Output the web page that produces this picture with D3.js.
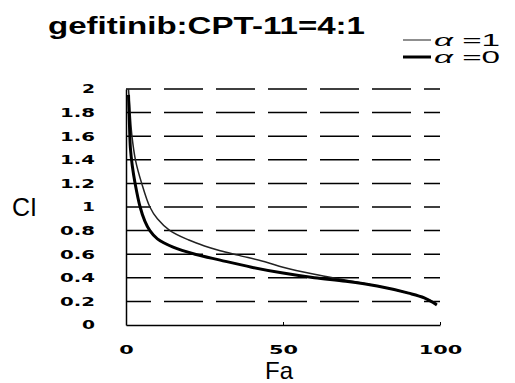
<!DOCTYPE html>
<html>
<head>
<meta charset="utf-8">
<script src="https://cdn.jsdelivr.net/npm/d3@7"></script>
<style>
  body { margin: 0; background: #fff; }
  svg { display: block; }
</style>
</head>
<body>
<div id="chart"></div>
<script>
// Fa values (%) and CI values
var faAlpha0 = [0.8, 1.1, 1.4, 2, 2.9, 4.5, 6, 7.6, 10, 15, 22, 30, 40, 50, 60, 70, 80, 90, 95, 99];
var ciAlpha0 = [1.95, 1.7, 1.5, 1.35, 1.2, 1.0, 0.88, 0.8, 0.73, 0.66, 0.6, 0.55, 0.49, 0.44, 0.4, 0.37, 0.33, 0.27, 0.23, 0.17];
var faAlpha1 = [0.8, 1.3, 1.9, 3, 5, 7.6, 10, 14, 20, 25, 30, 36, 45, 50, 60, 70, 80, 90, 95, 99];
var ciAlpha1 = [2.0, 1.8, 1.6, 1.4, 1.2, 1.0, 0.9, 0.8, 0.72, 0.67, 0.63, 0.59, 0.53, 0.49, 0.43, 0.38, 0.33, 0.27, 0.23, 0.18];
var xTicks = [0, 50, 100];
var yTicks = [0, 0.2, 0.4, 0.6, 0.8, 1, 1.2, 1.4, 1.6, 1.8, 2];
var yTickLabels = ["0", "0.2", "0.4", "0.6", "0.8", "1", "1.2", "1.4", "1.6", "1.8", "2"];
var legendLabels = ["\u03B1 =1", "\u03B1 =0"];

var w = 515, h = 383;
var plotLeft = 126, plotRight = 440, plotTop = 89, plotBottom = 325;

var svg = d3.select("#chart").append("svg")
    .attr("width", w)
    .attr("height", h);

var xScale = d3.scaleLinear().domain([0, 100]).range([plotLeft, plotRight]);
var yScale = d3.scaleLinear().domain([0, 2]).range([plotBottom, plotTop]);

// dashed gridlines
svg.append("g")
    .selectAll("line")
    .data(yTicks.filter(d => d > 0))
    .enter()
    .append("line")
    .attr("x1", plotLeft)
    .attr("x2", plotRight)
    .attr("y1", d => yScale(d))
    .attr("y2", d => yScale(d))
    .attr("stroke", "#000")
    .attr("stroke-width", 1.5)
    .attr("stroke-dasharray", "39 13")
    .attr("stroke-dashoffset", 14);

// x axis
var xAxis = svg.append("g")
    .attr("transform", `translate(0,${plotBottom})`)
    .call(d3.axisBottom(xScale).tickValues(xTicks).tickSizeInner(-3).tickSizeOuter(0).tickPadding(20));
xAxis.select(".domain").attr("stroke-width", 1.5);
xAxis.selectAll("text")
    .attr("font-family", "DejaVu Sans")
    .attr("font-weight", "bold")
    .attr("font-size", 13)
    .attr("textLength", d => String(d).length * 14.5)
    .attr("lengthAdjust", "spacingAndGlyphs");

// y axis
var yAxis = svg.append("g")
    .attr("transform", `translate(${plotLeft},0)`)
    .call(d3.axisLeft(yScale).tickValues(yTicks).tickFormat((d, i) => yTickLabels[i]).tickSize(0).tickPadding(31));
yAxis.select(".domain").attr("stroke-width", 1.5);
yAxis.selectAll("text")
    .attr("font-family", "DejaVu Sans")
    .attr("font-weight", "bold")
    .attr("font-size", 12)
    .attr("textLength", (d, i) => {
        var s = yTickLabels[i];
        return s.replace(".", "").length * 13 + (s.indexOf(".") >= 0 ? 9 : 0);
    })
    .attr("lengthAdjust", "spacingAndGlyphs");

// curves
var line = d3.line()
    .x(d => xScale(d[0]))
    .y(d => yScale(d[1]))
    .curve(d3.curveCatmullRom.alpha(0.5));

svg.append("path")
    .datum(faAlpha1.map((f, i) => [f, ciAlpha1[i]]))
    .attr("d", line)
    .attr("fill", "none")
    .attr("stroke", "#222")
    .attr("stroke-width", 1.5);

svg.append("path")
    .datum(faAlpha0.map((f, i) => [f, ciAlpha0[i]]))
    .attr("d", line)
    .attr("fill", "none")
    .attr("stroke", "#000")
    .attr("stroke-width", 3);

// title
svg.append("text")
    .attr("x", 48)
    .attr("y", 34)
    .attr("font-family", "Liberation Sans, Arial, sans-serif")
    .attr("font-weight", "bold")
    .attr("font-size", 24)
    .attr("textLength", 317)
    .attr("lengthAdjust", "spacingAndGlyphs")
    .text("gefitinib:CPT-11=4:1");

// axis titles
svg.append("text")
    .attr("x", 12)
    .attr("y", 216)
    .attr("font-family", "Liberation Sans, Arial, sans-serif")
    .attr("font-size", 25)
    .text("CI");

svg.append("text")
    .attr("x", 279)
    .attr("y", 379)
    .attr("text-anchor", "middle")
    .attr("font-family", "Liberation Sans, Arial, sans-serif")
    .attr("font-size", 24)
    .text("Fa");

// legend
var legend = svg.append("g");
legend.selectAll("line")
    .data(legendLabels)
    .enter()
    .append("line")
    .attr("x1", 403)
    .attr("x2", 431)
    .attr("y1", (d, i) => 40 + i * 17)
    .attr("y2", (d, i) => 40 + i * 17)
    .attr("stroke", (d, i) => i === 0 ? "#444" : "#000")
    .attr("stroke-width", (d, i) => i === 0 ? 1.2 : 3);

legend.selectAll("text")
    .data(legendLabels)
    .enter()
    .append("text")
    .attr("x", 434)
    .attr("y", (d, i) => 46 + i * 17)
    .attr("font-family", "Liberation Sans, Arial, sans-serif")
    .attr("font-size", 16)
    .attr("textLength", 66)
    .attr("lengthAdjust", "spacingAndGlyphs")
    .html(d => `<tspan font-style="italic">${d.slice(0, 1)}</tspan>${d.slice(1)}`);
</script>
</body>
</html>
